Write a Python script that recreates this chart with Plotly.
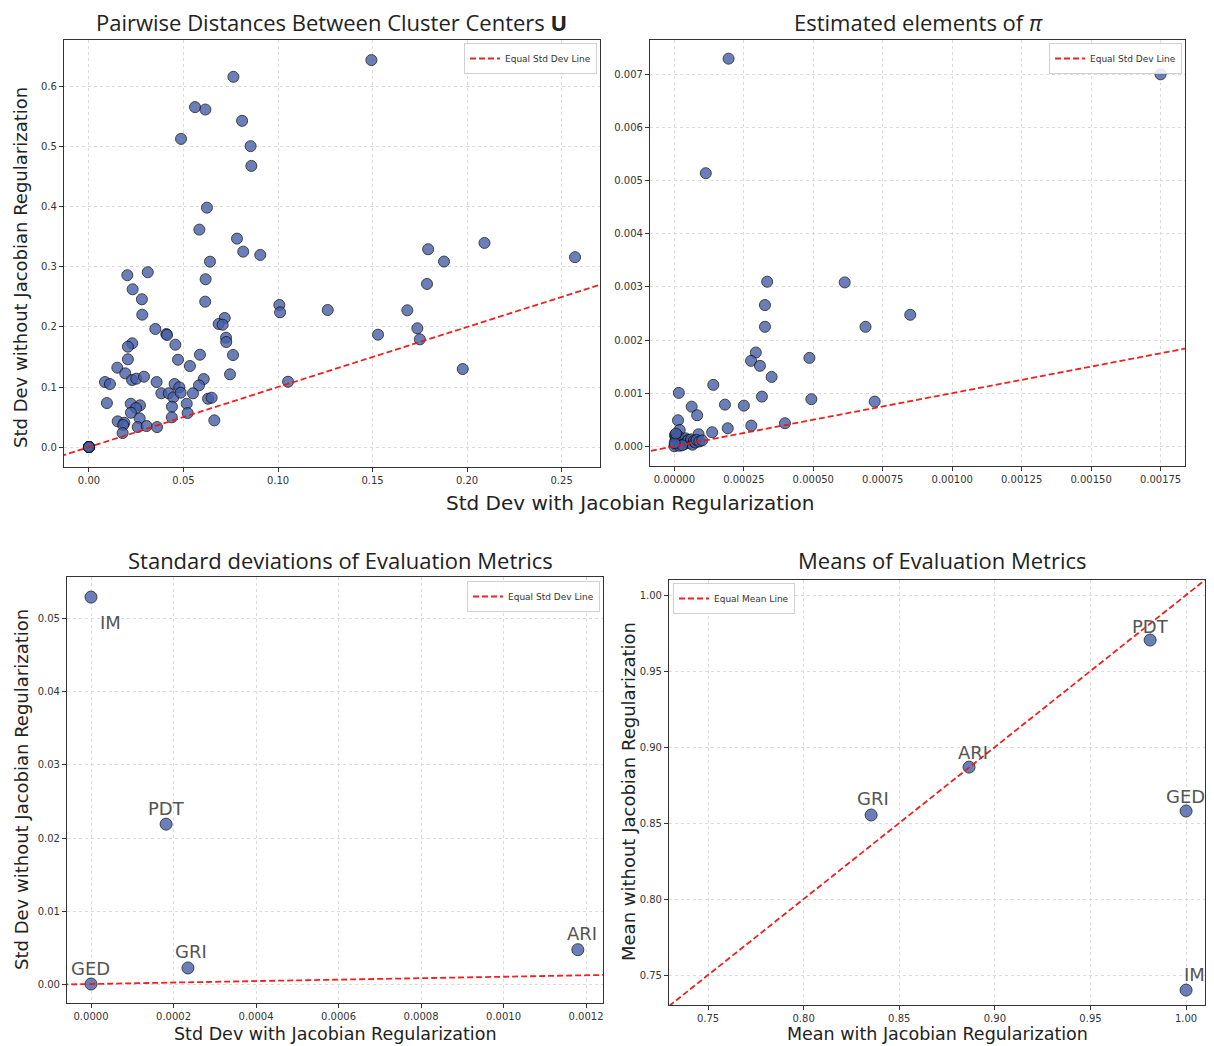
import plotly.graph_objects as go

# ---------------- data ----------------
# Top-left: pairwise distances between cluster centers U
u_with = [0.1494, 0.0764, 0.0561, 0.0616, 0.0810, 0.0487, 0.0855, 0.0859, 0.0624, 0.0584,
          0.0783, 0.0816, 0.0906, 0.0640, 0.0617, 0.0615, 0.0203, 0.0311, 0.0231, 0.0280,
          0.0282, 0.1007, 0.1011, 0.1263, 0.0718, 0.0686, 0.0707, 0.0351, 0.0409, 0.0413,
          0.0725, 0.0726, 0.0457, 0.0229, 0.0206, 0.0471, 0.0206, 0.0587, 0.0762, 0.0534,
          0.0150, 0.0192, 0.0746, 0.0228, 0.0250, 0.0291, 0.0085, 0.0111, 0.0358, 0.0453,
          0.0478, 0.0607, 0.0582, 0.1053, 0.0383, 0.0422, 0.0446, 0.0485, 0.0550, 0.0630,
          0.0649, 0.0095, 0.0221, 0.0270, 0.0249, 0.0439, 0.0517, 0.0222, 0.0522, 0.0438,
          0.0663, 0.0268, 0.0152, 0.0187, 0.0181, 0.0178, 0.0258, 0.0305, 0.0360, 0.1794,
          0.1878, 0.2092, 0.2571, 0.1788, 0.1684, 0.1529, 0.1737, 0.1750, 0.1977,
          0.0, 0.0, 0.0, 0.0, 0.0, 0.0]
u_without = [0.6445, 0.6167, 0.5662, 0.5622, 0.5433, 0.5133, 0.5012, 0.4683, 0.3988, 0.3622,
             0.3472, 0.3255, 0.3200, 0.3088, 0.2795, 0.2422, 0.2862, 0.2912, 0.2628, 0.2462,
             0.2205, 0.2367, 0.2245, 0.2283, 0.2150, 0.2050, 0.2038, 0.1967, 0.1883, 0.1867,
             0.1822, 0.1750, 0.1705, 0.1728, 0.1672, 0.1455, 0.1462, 0.1538, 0.1533, 0.1350,
             0.1322, 0.1228, 0.1212, 0.1117, 0.1138, 0.1172, 0.1083, 0.1050, 0.1083, 0.1050,
             0.0995, 0.1133, 0.1028, 0.1088, 0.0895, 0.0895, 0.0828, 0.0905, 0.0895, 0.0805,
             0.0822, 0.0733, 0.0722, 0.0695, 0.0650, 0.0672, 0.0722, 0.0572, 0.0567, 0.0495,
             0.0445, 0.0478, 0.0428, 0.0405, 0.0367, 0.0233, 0.0333, 0.0350, 0.0333, 0.3295,
             0.3090, 0.3400, 0.3163, 0.2717, 0.2278, 0.1872, 0.1978, 0.1795, 0.1300,
             0.0, 0.0, 0.0, 0.0, 0.0, 0.0]

# Top-right: estimated elements of pi
pi_with = [0.000195, 0.000113, 0.001750, 0.000849, 0.000334, 0.000613, 0.000326, 0.000326,
           0.000688, 0.000293, 0.000276, 0.000308, 0.000486, 0.000350, 0.000140, 0.000016,
           0.000315, 0.000493, 0.000721, 0.000182, 0.000250, 0.000062, 0.000082, 0.000013,
           0.000398, 0.000277, 0.000192, 0.000019, 0.000136, 0.000087,
           0.000002, 0.000005, 0.000010, 0.000004, 0.000008, 0.000012, 0.000003, 0.000000,
           0.000015, 0.000020, 0.000025, 0.000030, 0.000035, 0.000040, 0.000045, 0.000050,
           0.000055, 0.000060, 0.000065, 0.000070, 0.000075, 0.000080, 0.000090, 0.000100,
           0.000018, 0.000028, 0.000001, 0.000006]
pi_without = [0.007295, 0.005139, 0.007000, 0.002475, 0.003097, 0.003084, 0.002658, 0.002249,
              0.002249, 0.001765, 0.001608, 0.001514, 0.001664, 0.001306, 0.001156, 0.001005,
              0.000935, 0.000886, 0.000841, 0.000784, 0.000765, 0.000746, 0.000584, 0.000490,
              0.000434, 0.000389, 0.000339, 0.000307, 0.000264, 0.000226,
              0.000210, 0.000180, 0.000150, 0.000120, 0.000090, 0.000060, 0.000030, 0.000000,
              0.000190, 0.000130, 0.000080, 0.000110, 0.000040, 0.000150, 0.000090, 0.000120,
              0.000060, 0.000130, 0.000030, 0.000100, 0.000070, 0.000120, 0.000090, 0.000110,
              0.000010, 0.000020, 0.000060, 0.000240]

# Bottom: evaluation metrics
metrics = ["ARI", "GRI", "PDT", "GED", "IM"]
std_with = [0.00118, 0.000235, 0.000182, 0.0, 0.0]
std_without = [0.0047, 0.0022, 0.0219, 0.0, 0.0530]
mean_with = [0.8865, 0.8353, 0.9812, 1.0, 1.0]
mean_without = [0.8868, 0.8553, 0.9704, 0.8579, 0.7401]

# label offsets (pixels) for the metric names
std_label_shift = {"ARI": (4, 16, "center", "middle"), "GRI": (3, 16, "center", "middle"),
                   "PDT": (0, 16, "center", "middle"), "GED": (-1, 16, "center", "middle"),
                   "IM": (7, -13, "left", "top")}
mean_label_shift = {"ARI": (4, 15, "center", "middle"), "GRI": (2, 17, "center", "middle"),
                    "PDT": (0, 14, "center", "middle"), "GED": (-1, 15, "center", "middle"),
                    "IM": (8, 16, "center", "middle")}

# ---------------- styling ----------------
OFF = 8                      # default page margin of the html body
W, H = 1214 - OFF, 1046 - OFF
FONT = "DejaVu Sans"
MARKER = dict(color="rgb(69,95,169)", opacity=0.8, line=dict(color="#111", width=1))
RED = "rgba(238,20,20,0.95)"

def px(x):
    return (x - OFF) / W

def py(y):
    return 1 - (y - OFF) / H

ranges = {
    "tl": ([-0.0132, 0.2703], [-0.0332, 0.678]),
    "tr": ([-0.0000878, 0.001838], [-0.000371, 0.007646]),
    "bl": ([-0.0000582, 0.001241], [-0.0026, 0.05575]),
    "br": ([0.7296, 1.0099], [0.7303, 1.0099]),
}
domains = {
    "tl": ([px(64), px(600)], [py(467), py(40)]),
    "tr": ([px(650), px(1185)], [py(466), py(40)]),
    "bl": ([px(67), px(603)], [py(1003), py(577)]),
    "br": ([px(669), px(1205)], [py(1005), py(580)]),
}
ticks = {
    "tl": (0.05, ".2f", 0.1, ".1f"),
    "tr": (0.00025, ".5f", 0.001, ".3f"),
    "bl": (0.0002, ".4f", 0.01, ".2f"),
    "br": (0.05, ".2f", 0.05, ".2f"),
}
keys = ["tl", "tr", "bl", "br"]

fig = go.Figure()

def ax_names(i):
    return ("x" if i == 0 else f"x{i+1}", "y" if i == 0 else f"y{i+1}")

def add_pair(i, xs, ys, legend_name, legend_id, msize):
    xa, ya = ax_names(i)
    xr, yr = ranges[keys[i]]
    lo, hi = min(xr[0], yr[0]), max(xr[1], yr[1])
    fig.add_trace(go.Scatter(x=xs, y=ys, mode="markers", xaxis=xa, yaxis=ya,
                             marker=dict(size=msize, **MARKER), showlegend=False,
                             hoverinfo="skip"))
    fig.add_trace(go.Scatter(x=[lo, hi], y=[lo, hi], mode="lines", xaxis=xa, yaxis=ya,
                             line=dict(color=RED, width=1.8, dash="6px,3px"),
                             name=legend_name, legend=legend_id, showlegend=True))

add_pair(0, u_with, u_without, "Equal Std Dev Line", "legend", 11)
add_pair(1, pi_with, pi_without, "Equal Std Dev Line", "legend2", 11)
add_pair(2, std_with, std_without, "Equal Std Dev Line", "legend3", 12)
add_pair(3, mean_with, mean_without, "Equal Mean Line", "legend4", 12)

layout = dict(width=W, height=H, margin=dict(l=0, r=0, t=0, b=0),
              paper_bgcolor="white", plot_bgcolor="white", showlegend=True,
              font=dict(family=FONT, color="#333"))

for i, k in enumerate(keys):
    xr, yr = ranges[k]
    xd, yd = domains[k]
    dx, fx, dy, fy = ticks[k]
    xa, ya = ax_names(i)
    xkey = "xaxis" if i == 0 else f"xaxis{i+1}"
    ykey = "yaxis" if i == 0 else f"yaxis{i+1}"
    common = dict(showline=True, linecolor="#333", linewidth=1.2, mirror=True,
                  ticks="outside", ticklen=4, tickcolor="#333",
                  showgrid=True, gridcolor="#dcdcdc", griddash="3px,3px", gridwidth=1,
                  zeroline=False, tickfont=dict(family=FONT, size=10, color="#333"))
    layout[xkey] = dict(domain=xd, range=xr, anchor=ya, dtick=dx, tick0=0,
                        tickformat=fx, **common)
    layout[ykey] = dict(domain=yd, range=yr, anchor=xa, dtick=dy, tick0=0,
                        tickformat=fy, **common)

def legend_box(x, y, xanchor):
    return dict(x=x, y=y, xanchor=xanchor, yanchor="top", xref="paper", yref="paper",
                bgcolor="rgba(255,255,255,0.85)", bordercolor="#d0d0d0", borderwidth=1,
                font=dict(family=FONT, size=9, color="#333"), itemwidth=30,
                tracegroupgap=0)

layout["legend"] = legend_box(px(597), py(43), "right")
layout["legend2"] = legend_box(px(1182), py(43), "right")
layout["legend3"] = legend_box(px(600), py(581), "right")
layout["legend4"] = legend_box(px(673), py(583), "left")

fig.update_layout(**layout)

# ---------------- titles and axis labels ----------------
TITLE_FONT = "Open Sans"
ann = []
def txt(text, x, y, size, angle=0, family=FONT, color="#222", pad=1):
    ann.append(dict(text=text, x=px(x), y=py(y), xref="paper", yref="paper",
                    showarrow=False, textangle=angle, xanchor="center", yanchor="middle",
                    borderpad=pad, font=dict(family=family, size=size, color=color)))

txt("Pairwise Distances Between Cluster Centers <b>U</b>", 331, 22, 22, family=TITLE_FONT, pad=0)
txt("Estimated elements of <i>π</i>", 918, 22, 22, family=TITLE_FONT, pad=0)
txt("Standard deviations of Evaluation Metrics", 340, 560, 22, family=TITLE_FONT)
txt("Means of Evaluation Metrics", 942, 560, 22, family=TITLE_FONT)

txt("Std Dev with Jacobian Regularization", 630, 503, 20)
txt("Std Dev without Jacobian Regularization", 20, 268, 18, angle=-90)
txt("Std Dev with Jacobian Regularization", 335, 1034, 17.5, pad=0)
txt("Std Dev without Jacobian Regularization", 21, 790, 18, angle=-90)
txt("Mean with Jacobian Regularization", 937, 1034, 17.5, pad=0)
txt("Mean without Jacobian Regularization", 628, 792, 18, angle=-90)

# metric name labels
for m, xv, yv in zip(metrics, std_with, std_without):
    sx, sy, xa_, ya_ = std_label_shift[m]
    ann.append(dict(text=m, x=xv, y=yv, xref="x3", yref="y3", showarrow=False,
                    xanchor=xa_, yanchor=ya_, xshift=sx, yshift=sy,
                    font=dict(family=FONT, size=18, color="#555")))
for m, xv, yv in zip(metrics, mean_with, mean_without):
    sx, sy, xa_, ya_ = mean_label_shift[m]
    ann.append(dict(text=m, x=xv, y=yv, xref="x4", yref="y4", showarrow=False,
                    xanchor=xa_, yanchor=ya_, xshift=sx, yshift=sy,
                    font=dict(family=FONT, size=18, color="#555")))

fig.update_layout(annotations=ann)
fig.write_html("out.html")
